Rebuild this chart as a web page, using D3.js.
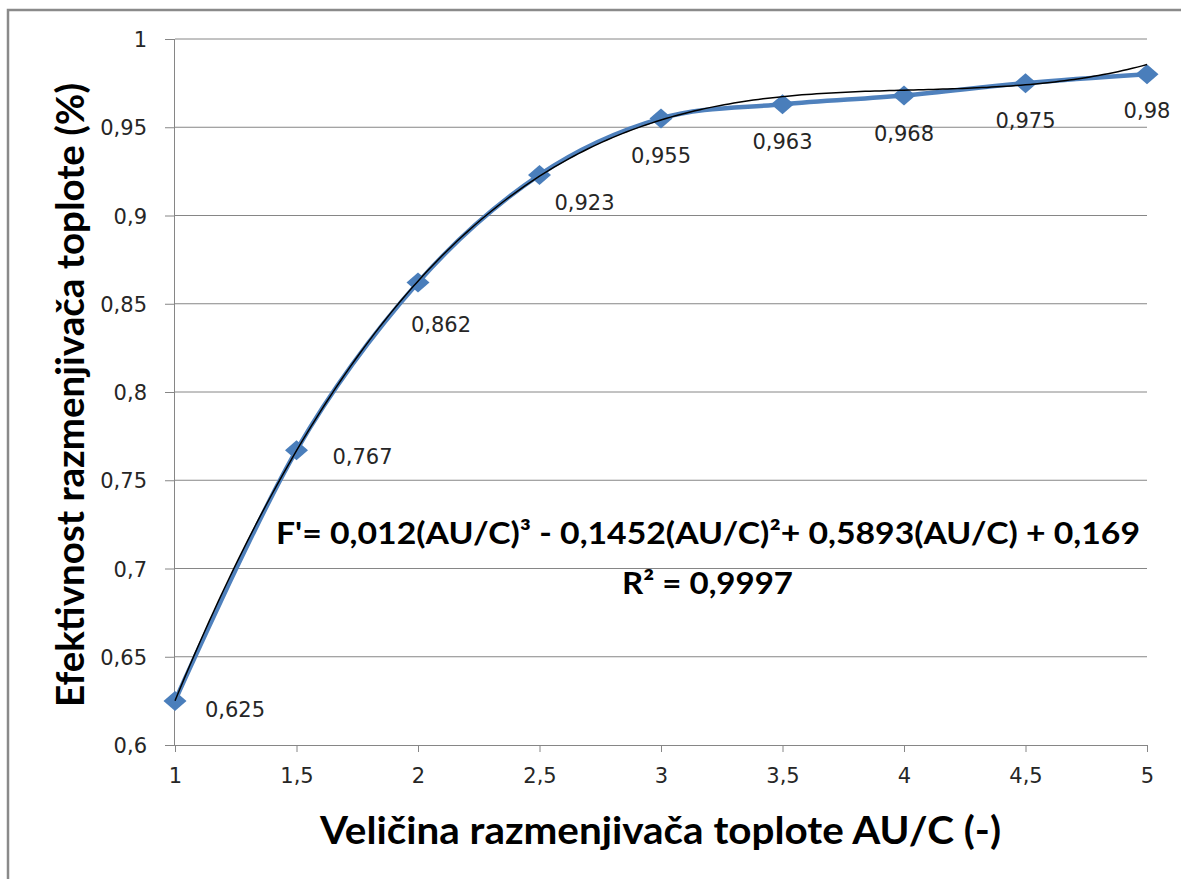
<!DOCTYPE html>
<html>
<head>
<meta charset="utf-8">
<script src="https://cdn.jsdelivr.net/npm/d3@7"></script>
<style>
  html, body { margin: 0; padding: 0; background: #fff; }
  svg { display: block; }
</style>
</head>
<body>
<svg id="chart" width="1181" height="879"></svg>
<script>
// Heat exchanger effectiveness vs. size (AU/C)
const sizes = [1, 1.5, 2, 2.5, 3, 3.5, 4, 4.5, 5];
const effectiveness = [0.625, 0.767, 0.862, 0.923, 0.955, 0.963, 0.968, 0.975, 0.98];
const valueLabels = ["0,625", "0,767", "0,862", "0,923", "0,955", "0,963", "0,968", "0,975", "0,98"];

// Polynomial trendline: c0 + c1·x + c2·x² + c3·x³
const trendCoefs = [0.169, 0.5893, -0.1452, 0.012];

const xTicks = [1, 1.5, 2, 2.5, 3, 3.5, 4, 4.5, 5];
const xTickLabels = ["1", "1,5", "2", "2,5", "3", "3,5", "4", "4,5", "5"];
const yTicks = [0.6, 0.65, 0.7, 0.75, 0.8, 0.85, 0.9, 0.95, 1];
const yTickLabels = ["0,6", "0,65", "0,7", "0,75", "0,8", "0,85", "0,9", "0,95", "1"];

const xTitle = "Veličina razmenjivača toplote  AU/C (-)";
const yTitle = "Efektivnost razmenjivača toplote (%)";
const equationText = "F'= 0,012(AU/C)³ - 0,1452(AU/C)²+ 0,5893(AU/C) + 0,169";
const r2Text = "R² = 0,9997";

// Label placement relative to each point: [dx of label centre, dy of baseline]
const labelOffsets = [[60, 16], [66, 14], [23, 49], [45, 35], [0, 45], [0, 45], [0, 46], [0, 45], [0, 44]];

const svg = d3.select("#chart");
const plot = { left: 175, right: 1147, top: 39, bottom: 745 };
const gridColor = "#868686";
const blue = "#4F81BD";
const textColor = "#262626";
const labelFont = "'DejaVu Sans', sans-serif";
const titleFont = "Lato, 'Open Sans', sans-serif";

const x = d3.scaleLinear().domain([1, 5]).range([plot.left, plot.right]);
const y = d3.scaleLinear().domain([0.6, 1]).range([plot.bottom, plot.top]);

// Outer chart frame
svg.append("rect")
  .attr("x", 8).attr("y", 10)
  .attr("width", 1300).attr("height", 1000)
  .attr("fill", "none")
  .attr("stroke", "#8a8a8a")
  .attr("stroke-width", 2.5);

// Horizontal gridlines
svg.append("g")
  .selectAll("line")
  .data(yTicks.filter(d => d > 0.6))
  .join("line")
  .attr("x1", plot.left).attr("x2", plot.right)
  .attr("y1", d => y(d)).attr("y2", d => y(d))
  .attr("stroke", gridColor).attr("stroke-width", 1);

// Y axis
const yAxis = d3.axisLeft(y)
  .tickValues(yTicks)
  .tickSize(10)
  .tickFormat((d, i) => yTickLabels[i])
  .tickPadding(18);
const gy = svg.append("g").attr("transform", `translate(${plot.left},0)`).call(yAxis);
gy.select(".domain").attr("stroke", gridColor).attr("d", `M-0.5,${plot.top}V${plot.bottom}`);
gy.selectAll(".tick line").attr("stroke", gridColor);
gy.selectAll(".tick text")
  .attr("font-family", labelFont).attr("font-size", 21)
  .attr("fill", textColor).attr("dy", "0.36em");

// X axis
const xAxis = d3.axisBottom(x)
  .tickValues(xTicks)
  .tickSize(7)
  .tickFormat((d, i) => xTickLabels[i])
  .tickPadding(18);
const gx = svg.append("g").attr("transform", `translate(0,${plot.bottom})`).call(xAxis);
gx.select(".domain").attr("stroke", gridColor).attr("d", `M${plot.left},0.5H${plot.right}`);
gx.selectAll(".tick line").attr("stroke", gridColor);
gx.selectAll(".tick text")
  .attr("font-family", labelFont).attr("font-size", 21)
  .attr("fill", textColor).attr("dy", "0.6em");

// Data series: smoothed line
const points = sizes.map((s, i) => ({ x: s, y: effectiveness[i], label: valueLabels[i], off: labelOffsets[i] }));
const line = d3.line()
  .x(d => x(d.x)).y(d => y(d.y))
  .curve(d3.curveCardinal.tension(0));
svg.append("path")
  .datum(points)
  .attr("d", line)
  .attr("fill", "none")
  .attr("stroke", blue)
  .attr("stroke-width", 4.5)
  .attr("stroke-linejoin", "round");

// Diamond markers
const hw = 11.5, hh = 10;
svg.append("g")
  .selectAll("path")
  .data(points)
  .join("path")
  .attr("d", d => {
    const cx = x(d.x), cy = y(d.y);
    return `M${cx},${cy - hh}L${cx + hw},${cy}L${cx},${cy + hh}L${cx - hw},${cy}Z`;
  })
  .attr("fill", "#4A7EBB");

// Polynomial trendline
const trendPoly = v => trendCoefs.reduce((acc, c, k) => acc + c * Math.pow(v, k), 0);
const trendPts = d3.range(0, 201).map(i => {
  const v = 1 + i * 4 / 200;
  return [v, trendPoly(v)];
});
svg.append("path")
  .datum(trendPts)
  .attr("d", d3.line().x(d => x(d[0])).y(d => y(d[1])))
  .attr("fill", "none")
  .attr("stroke", "#000")
  .attr("stroke-width", 1.5);

// Value labels
svg.append("g")
  .selectAll("text")
  .data(points)
  .join("text")
  .attr("x", d => x(d.x) + d.off[0])
  .attr("y", d => y(d.y) + d.off[1])
  .attr("text-anchor", "middle")
  .attr("font-family", labelFont)
  .attr("font-size", 21)
  .attr("fill", textColor)
  .text(d => d.label);

// Trendline equation
svg.append("text")
  .attr("x", 276).attr("y", 544)
  .attr("font-family", titleFont).attr("font-weight", "bold")
  .attr("font-size", 30)
  .attr("textLength", 864).attr("lengthAdjust", "spacingAndGlyphs")
  .attr("fill", "#000")
  .text(equationText);
svg.append("text")
  .attr("x", 622).attr("y", 594)
  .attr("font-family", titleFont).attr("font-weight", "bold")
  .attr("font-size", 30)
  .attr("textLength", 171).attr("lengthAdjust", "spacingAndGlyphs")
  .attr("fill", "#000")
  .text(r2Text);

// Axis titles
svg.append("text")
  .attr("x", 320).attr("y", 844)
  .attr("font-family", titleFont).attr("font-weight", "bold")
  .attr("font-size", 38)
  .attr("textLength", 681).attr("lengthAdjust", "spacingAndGlyphs")
  .attr("fill", "#000")
  .text(xTitle);
svg.append("text")
  .attr("transform", "translate(84,707) rotate(-90)")
  .attr("x", 0).attr("y", 0)
  .attr("font-family", titleFont).attr("font-weight", "bold")
  .attr("font-size", 39)
  .attr("textLength", 624).attr("lengthAdjust", "spacingAndGlyphs")
  .attr("fill", "#000")
  .text(yTitle);
</script>
</body>
</html>
